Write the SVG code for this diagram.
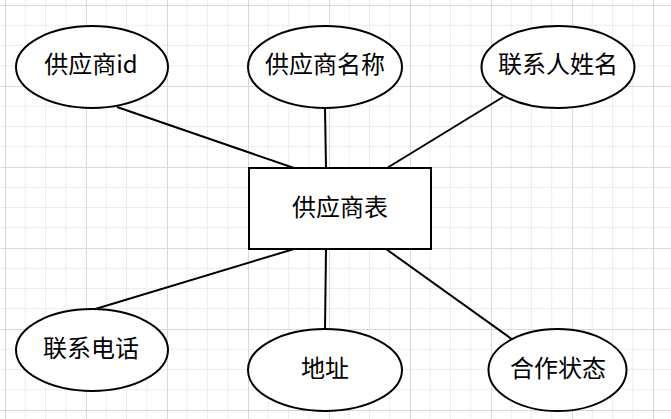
<svg xmlns="http://www.w3.org/2000/svg" width="671" height="419" viewBox="0 0 671 419">
<defs>
<pattern id="grid" patternUnits="userSpaceOnUse" x="5" y="5" width="81" height="81">
<path d="M20.25 0V81M40.5 0V81M60.75 0V81M0 20.25H81M0 40.5H81M0 60.75H81" stroke="#ededed" stroke-width="1" fill="none"/>
<path d="M0.5 0V81M0 0.5H81" stroke="#d9d9d9" stroke-width="1" fill="none"/>
</pattern>
</defs>
<style>
.n{fill:#fff;stroke:#000;stroke-width:2}
.t{font-family:"Noto Sans CJK SC","Liberation Sans",sans-serif;font-size:24px;fill:#000;text-anchor:middle}
.c line{stroke:#000;stroke-width:2}
</style>
<rect width="671" height="419" fill="#fff"/>
<rect width="671" height="419" fill="url(#grid)"/>
<g class="c" id="connectors">
<line x1="117" y1="107" x2="294" y2="168"/>
<line x1="325" y1="108" x2="326" y2="168"/>
<line x1="503" y1="97" x2="387" y2="168"/>
<line x1="294" y1="249" x2="92" y2="310"/>
<line x1="326" y1="249" x2="325" y2="330"/>
<line x1="386" y1="249" x2="513" y2="340"/>
</g>
<g id="table">
<rect class="n" x="249" y="168" width="182" height="81"/>
<text class="t" x="340" y="216">供应商表</text>
</g>
<g id="supplier-id">
<ellipse class="n" cx="92" cy="67" rx="76" ry="41"/>
<text class="t" x="91" y="73">供应商id</text>
</g>
<g id="supplier-name">
<ellipse class="n" cx="325" cy="67" rx="77" ry="41"/>
<text class="t" x="325" y="73">供应商名称</text>
</g>
<g id="contact-name">
<ellipse class="n" cx="558" cy="67" rx="76.5" ry="41"/>
<text class="t" x="558" y="73">联系人姓名</text>
</g>
<g id="contact-phone">
<ellipse class="n" cx="92" cy="350" rx="76" ry="41"/>
<text class="t" x="91" y="357">联系电话</text>
</g>
<g id="address">
<ellipse class="n" cx="325" cy="370" rx="77" ry="41"/>
<text class="t" x="325" y="377">地址</text>
</g>
<g id="coop-status">
<ellipse class="n" cx="557.5" cy="370" rx="69" ry="41"/>
<text class="t" x="558" y="377">合作状态</text>
</g>
</svg>
